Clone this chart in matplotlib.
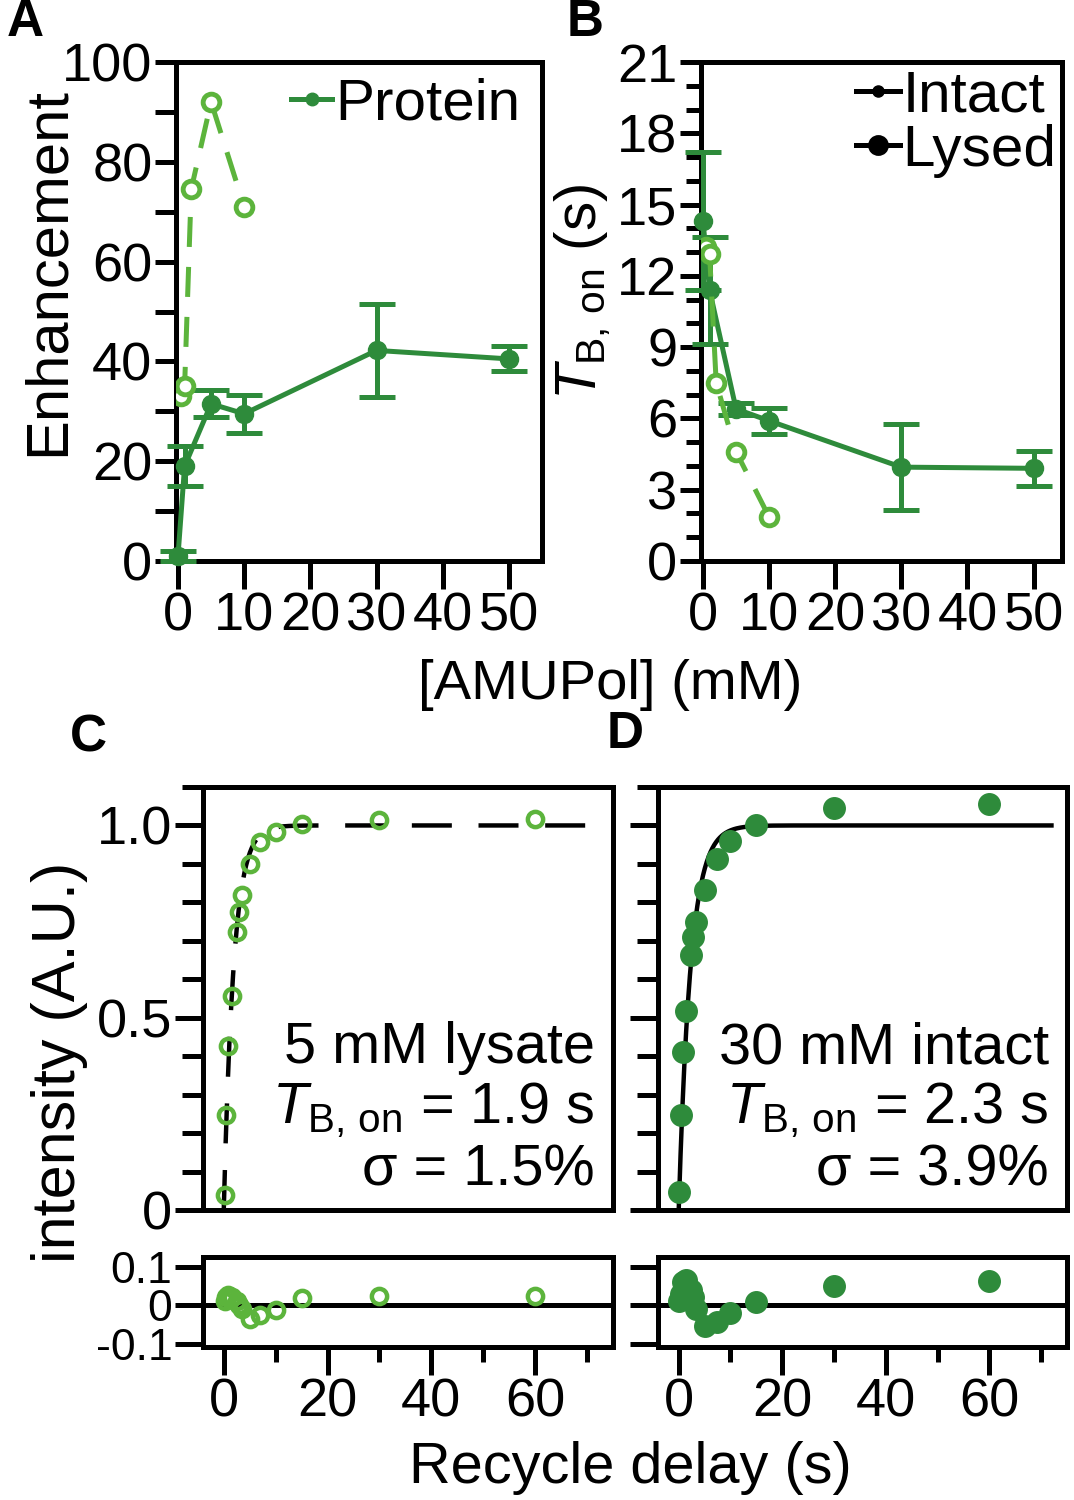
import numpy as np
import matplotlib
matplotlib.use('Agg')
import matplotlib.pyplot as plt
from matplotlib.lines import Line2D
from matplotlib.ticker import MultipleLocator, FixedLocator

plt.rcParams['font.family'] = ['Liberation Sans', 'DejaVu Sans']
plt.rcParams['mathtext.fontset'] = 'custom'
plt.rcParams['mathtext.rm'] = 'Liberation Sans'
plt.rcParams['mathtext.it'] = 'Liberation Sans:italic'

# --- data: panels A and B, [AMUPol] in mM ---
intact_mM = [0, 1, 5, 10, 30, 50]
intact_enh = [1, 19, 31.5, 29.5, 42.2, 40.5]
intact_enh_err = [1, 4, 2.7, 3.8, 9.4, 2.5]
intact_tb = [14.3, 11.4, 6.4, 5.9, 3.95, 3.9]
intact_tb_err = [2.9, 2.25, 0.25, 0.55, 1.8, 0.75]

lysed_mM = [0.5, 1, 2, 5, 10]
lysed_enh = [33, 35, 74.5, 92, 71]
lysed_tb = [13.2, 12.9, 7.5, 4.6, 1.85]

# --- data: panels C and D, recycle delay in s ---
lys_delay = [0.25, 0.5, 0.75, 1.5, 2.5, 3, 3.5, 5, 7, 10, 15, 30, 60]
lys_int = [0.04, 0.246, 0.427, 0.556, 0.724, 0.776, 0.819, 0.90, 0.957, 0.983, 1.004, 1.013, 1.017]
lys_res = [0.01, 0.02, 0.025, 0.02, 0.01, 0.0, -0.01, -0.036, -0.027, -0.014, 0.018, 0.023, 0.023]
T_lys = 1.9

int_delay = [0.1, 0.4, 0.8, 1.35, 2.3, 2.8, 3.3, 5, 7.4, 10, 15, 30, 60]
int_int = [0.047, 0.246, 0.41, 0.517, 0.664, 0.711, 0.75, 0.832, 0.912, 0.959, 1.002, 1.045, 1.056]
int_res = [0.01, 0.03, 0.06, 0.065, 0.04, 0.02, -0.01, -0.055, -0.045, -0.02, 0.008, 0.05, 0.062]
T_int = 2.3

dark = '#2e8b3b'
light = '#5cb43c'
LW = 3.6
FS = 39      # tick labels
FT = 41      # axis labels / annotations

W, H = 1074, 1500
def box(l, t, r, b):
    return [l / W, 1 - b / H, (r - l) / W, (b - t) / H]

fig = plt.figure(figsize=(10.74, 15), dpi=100)

def style(ax):
    for s in ax.spines.values():
        s.set_linewidth(LW)
    ax.tick_params(which='both', direction='out', width=LW, labelsize=FS, pad=2,
                   top=False, right=False)
    ax.tick_params(which='major', length=15)
    ax.tick_params(which='minor', length=11)

# ---------- A ----------
axA = fig.add_axes(box(176, 62, 542, 561))
style(axA)
axA.errorbar(intact_mM, intact_enh, yerr=intact_enh_err, fmt='-o', color=dark, lw=LW,
             ms=13, capsize=13, capthick=LW, elinewidth=LW, clip_on=False, zorder=3)
axA.plot(lysed_mM, lysed_enh, '--o', color=light, mfc='white', mew=3.5, ms=12, lw=LW,
         dashes=(6, 4), zorder=4)
axA.set_xlim(-0.3, 55)
axA.set_ylim(0, 100)
axA.yaxis.set_major_locator(MultipleLocator(20))
axA.yaxis.set_minor_locator(MultipleLocator(10))
axA.tick_params(axis='y', which='minor', length=15)
axA.set_xticks([0, 10, 20, 30, 40, 50])
axA.tick_params(axis='x', length=20)
axA.legend(handles=[Line2D([], [], color=dark, lw=LW, marker='o', ms=9)], labels=['Protein'],
           loc='center right', bbox_to_anchor=(0.94, 0.914), frameon=False, fontsize=FT + 1,
           handlelength=0.7, handletextpad=0.05, borderpad=0, borderaxespad=0)

# ---------- B ----------
axB = fig.add_axes(box(701, 62, 1062, 561))
style(axB)
axB.errorbar(intact_mM, intact_tb, yerr=intact_tb_err, fmt='-o', color=dark, lw=LW,
             ms=13, capsize=13, capthick=LW, elinewidth=LW, clip_on=False, zorder=3)
axB.plot(lysed_mM, lysed_tb, '--o', color=light, mfc='white', mew=3.5, ms=12, lw=LW,
         dashes=(6, 4), zorder=4)
axB.set_xlim(-0.3, 54.3)
axB.set_ylim(0, 21)
axB.yaxis.set_major_locator(MultipleLocator(3))
axB.yaxis.set_minor_locator(MultipleLocator(1))
axB.set_xticks([0, 10, 20, 30, 40, 50])
axB.tick_params(axis='x', length=20)
hB = [Line2D([], [], color='k', lw=LW, marker='o', ms=8),
      Line2D([], [], color='k', lw=LW, marker='o', ms=12, mew=3)]
axB.legend(handles=hB, labels=['Intact', 'Lysed'], loc='center right',
           bbox_to_anchor=(0.985, 0.876), frameon=False, fontsize=FT + 1, handlelength=0.75,
           handletextpad=0.05, borderpad=0, borderaxespad=0, labelspacing=0.0)

fig.text(610 / W, 1 - 685 / H, '[AMUPol] (mM)', ha='center', va='center', fontsize=FT - 0.5)
fig.text(48 / W, 1 - 272 / H, 'Enhancement', ha='center', va='center', rotation=90,
         fontsize=FT + 2)
fig.text(582 / W, 1 - 292 / H, r'$T_{\mathrm{B,\,on}}$ (s)', ha='center', va='center',
         rotation=90, fontsize=FT + 1)

# ---------- C / D ----------
t = np.linspace(0, 72, 400)

def main_panel(l, r, delay, inten, T, ls, open_marker, label_lines, ylabels):
    ax = fig.add_axes(box(l, 787, r, 1210))
    style(ax)
    if ls == '--':
        ax.plot(t, 1 - np.exp(-t / T), color='k', lw=3.2, dashes=(9, 6), zorder=2)
    else:
        ax.plot(t, 1 - np.exp(-t / T), color='k', lw=3.2, zorder=2)
    if open_marker:
        ax.plot(delay, inten, 'o', color=light, mfc='none', mew=3.2, ms=11, zorder=3,
                clip_on=False)
    else:
        ax.plot(delay, inten, 'o', color=dark, ms=15.5, zorder=3, clip_on=False)
    ax.set_xlim(-4, 75)
    ax.set_ylim(0, 1.1)
    ax.set_xticks([])
    ax.yaxis.set_major_locator(FixedLocator([0, 0.5, 1.0]))
    ax.yaxis.set_minor_locator(MultipleLocator(0.1))
    ax.tick_params(axis='y', which='major', length=20)
    ax.tick_params(axis='y', which='minor', length=15)
    if ylabels:
        ax.set_yticklabels(['0', '0.5', '1.0'])
    else:
        ax.set_yticklabels([])
    for txt, yy in zip(label_lines, [0.42, 0.26, 0.104]):
        ax.text(71.5, yy, txt, ha='right', va='center', fontsize=FT + 0.5)
    return ax

def resid_panel(l, r, delay, res, open_marker, ylabels):
    ax = fig.add_axes(box(l, 1257, r, 1347))
    style(ax)
    ax.axhline(0, color='k', lw=LW, zorder=2)
    if open_marker:
        ax.plot(delay, res, 'o', color=light, mfc='none', mew=3.2, ms=11, zorder=3)
    else:
        ax.plot(delay, res, 'o', color=dark, ms=15.5, zorder=3)
    ax.set_xlim(-4, 75)
    ax.set_ylim(-0.109, 0.125)
    ax.set_yticks([-0.1, 0, 0.1])
    ax.tick_params(axis='y', length=20, labelsize=32)
    if ylabels:
        ax.set_yticklabels(['-0.1', '0', '0.1'])
    else:
        ax.set_yticklabels([])
    ax.set_xticks([0, 20, 40, 60])
    ax.xaxis.set_minor_locator(FixedLocator([10, 30, 50, 70]))
    ax.tick_params(axis='x', which='major', length=20)
    ax.tick_params(axis='x', which='minor', length=11)
    return ax

main_panel(203, 613, lys_delay, lys_int, T_lys, '--', True,
           ['5 mM lysate', r'$T_{\mathrm{B,\,on}}$ = 1.9 s', 'σ = 1.5%'], True)
resid_panel(203, 613, lys_delay, lys_res, True, True)
main_panel(658, 1067, int_delay, int_int, T_int, '-', False,
           ['30 mM intact', r'$T_{\mathrm{B,\,on}}$ = 2.3 s', 'σ = 3.9%'], False)
resid_panel(658, 1067, int_delay, int_res, False, False)

fig.text(630 / W, 1 - 1468 / H, 'Recycle delay (s)', ha='center', va='center',
         fontsize=FT + 0.5)
fig.text(60 / W, 1 - 1062 / H, 'intensity (A.U.)', ha='center', va='center', rotation=90,
         fontsize=FT + 3)

# panel letters
for lab, x, y in [('A', 25, 22), ('B', 585, 22), ('C', 88, 738), ('D', 625, 735)]:
    fig.text(x / W, 1 - y / H, lab, ha='center', va='center', fontsize=37, fontweight='bold')

fig.savefig('out.png', dpi=100)
